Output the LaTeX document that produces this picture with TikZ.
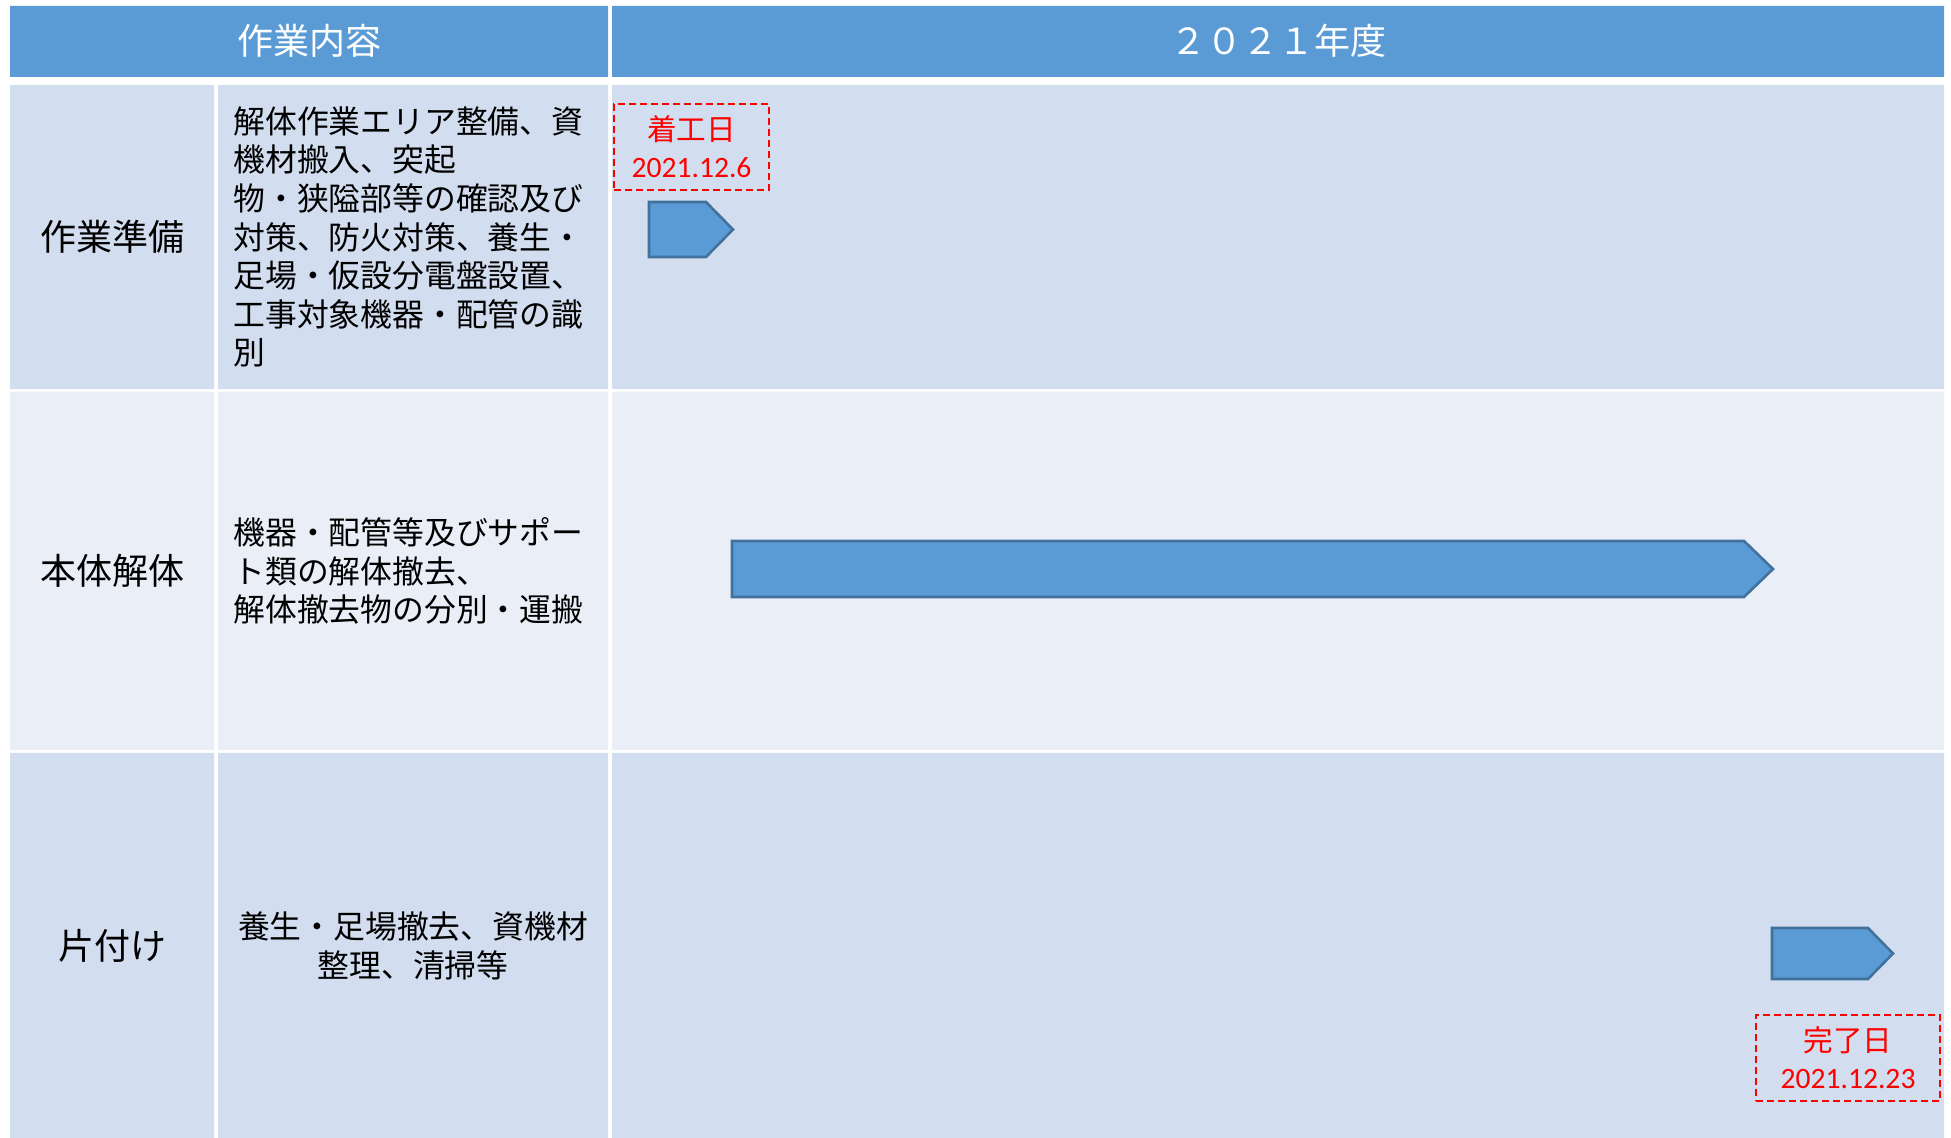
\documentclass[tikz,border=0pt]{standalone}
\usepackage{fontspec}
\setmainfont{Noto Sans CJK JP}
\newfontfamily\datefont{Carlito}
\usetikzlibrary{positioning}
\definecolor{hdblue}{HTML}{5B9BD5}
\definecolor{bandA}{HTML}{D2DEEF}
\definecolor{bandB}{HTML}{EAEFF7}
\definecolor{barline}{HTML}{41719C}
\definecolor{datered}{HTML}{FF0000}

\begin{document}
\begin{tikzpicture}[x=0.5pt,y=-0.5pt,
				head/.style={text=white,inner sep=0pt,font=\fontsize{18}{22}\selectfont},
				label/.style={inner sep=0pt,font=\fontsize{18}{22}\selectfont},
				desc/.style={inner sep=0pt,align=left,anchor=west,font=\fontsize{15.9}{19.3}\selectfont},
				datebox/.style={draw=datered,line width=1pt,dash pattern=on 3.5pt off 2pt,text=datered,
					align=center,inner sep=0pt,font=\fontsize{14.8}{18.5}\selectfont},
				bar/.style={fill=hdblue,draw=barline,line width=1.3pt,line join=miter}]
				\useasboundingbox[fill=white] (0,0) rectangle (1951,1138);
				% table cells
				\fill[hdblue] (10,6) rectangle (608,77) (612,6) rectangle (1944,77);
				\fill[bandA]  (10,85) rectangle (214,389) (218,85) rectangle (608,389) (612,85) rectangle (1944,389);
				\fill[bandB]  (10,392) rectangle (214,750) (218,392) rectangle (608,750) (612,392) rectangle (1944,750);
				\fill[bandA]  (10,753) rectangle (214,1138) (218,753) rectangle (608,1138) (612,753) rectangle (1944,1138);
				
				\node[head]  (H1) at (309,41)  {作業内容};
				\node[head]  (H2) at (1278,41) {２０２１年度};
				
				\node[label] (L1) at (112,237) {作業準備};
				\node[label] (L2) at (112,571) {本体解体};
				\node[label] (L3) at (112,946) {片付け};
				
				\node[desc]  (D1) at (233,237) {解体作業エリア整備、資\\機材搬入、突起\\物・狭隘部等の確認及び\\対策、防火対策、養生・\\足場・仮設分電盤設置、\\工事対象機器・配管の識\\別};
				\node[desc]  (D2) at (233,571) {機器・配管等及びサポー\\ト類の解体撤去、\\解体撤去物の分別・運搬};
				\node[desc,anchor=center,align=center] (D3) at (413,946) {養生・足場撤去、資機材\\整理、清掃等};
				
				\node[datebox,minimum width=77.5pt,minimum height=43pt] (START) at (691.5,147) {着工日\\{\datefont 2021.12.6}};
				\node[datebox,minimum width=92pt,minimum height=43pt]   (END)   at (1848,1058) {完了日\\{\datefont 2021.12.23}};
				
				% schedule bars
				\draw[bar] (649,202) -- (706,202) -- (733,229.5) -- (706,257) -- (649,257) -- cycle;
				\draw[bar] (732,541) -- (1744,541) -- (1773,569) -- (1744,597) -- (732,597) -- cycle;
				\draw[bar] (1772,928) -- (1868,928) -- (1893,953.5) -- (1868,979) -- (1772,979) -- cycle;
			\end{tikzpicture}
\end{document}
